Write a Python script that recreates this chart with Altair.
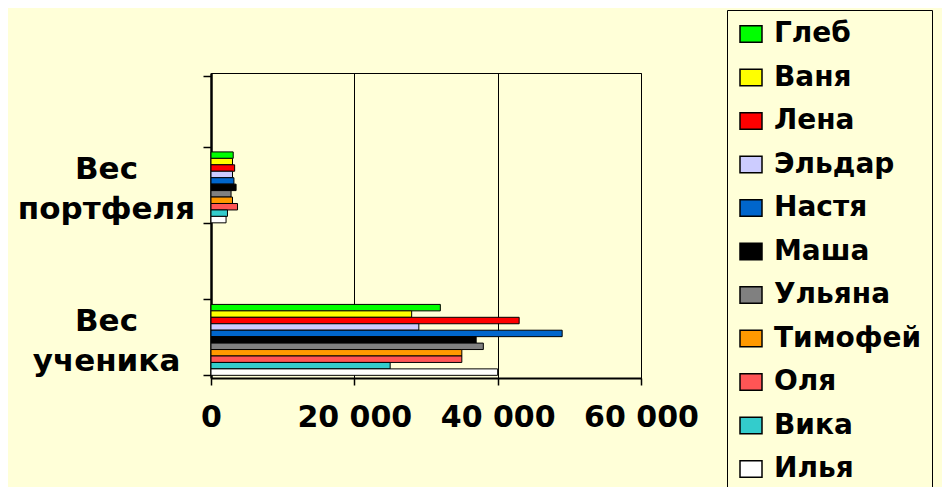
import altair as alt
import pandas as pd

categories = ["Вес портфеля", "Вес ученика"]
axis_slots = [" ", "Вес портфеля", "  ", "Вес ученика"]
names = ["Глеб", "Ваня", "Лена", "Эльдар", "Настя", "Маша", "Ульяна", "Тимофей", "Оля", "Вика", "Илья"]
portfolio = [3100, 3000, 3300, 3000, 3200, 3500, 2800, 3000, 3700, 2300, 2100]
student = [32000, 28000, 43000, 29000, 49000, 37000, 38000, 35000, 35000, 25000, 40000]
colors = ["#00FF00", "#FFFF00", "#FF0000", "#CCCCFF", "#0066CC", "#000000",
          "#808080", "#FF9900", "#FF5555", "#33CCCC", "#FFFFFF"]
x_ticks = [0, 20000, 40000, 60000]

rows = []
for cat, vals in zip(categories, [portfolio, student]):
    for n, v in zip(names, vals):
        rows.append({"cat": cat, "name": n, "value": v})
df = pd.DataFrame(rows)

FONT = "DejaVu Sans"
BG = "#FFFFD8"

bars = alt.Chart(df).mark_bar(stroke="black", strokeWidth=1).encode(
    y=alt.Y("cat:N", scale=alt.Scale(domain=axis_slots, paddingInner=0.07, paddingOuter=0.035),
            axis=alt.Axis(title=None, labelExpr="trim(datum.label) == '' ? '' : split(datum.label, ' ')",
                          labelAlign="center", labelBaseline="middle", labelPadding=97,
                          labelOffset=-18,
                          labelLineHeight=40, labelFont=FONT, labelFontSize=31, labelFontWeight="bold",
                          labelColor="black", tickBand="extent", tickSize=8, tickColor="black",
                          tickWidth=1.5, domainColor="black", domainWidth=2.5, grid=False)),
    yOffset=alt.YOffset("name:N", sort=names, scale=alt.Scale(domain=names, paddingInner=0, paddingOuter=0)),
    x=alt.X("value:Q", scale=alt.Scale(domain=[0, 60000], nice=False),
            axis=alt.Axis(title=None, values=x_ticks,
                          labelExpr="replace(format(datum.value, ',d'), ',', ' ')",
                          labelFont=FONT, labelFontSize=30, labelFontWeight="bold", labelColor="black",
                          labelPadding=17, labelBaseline="top", tickSize=7, tickColor="black", tickWidth=1.5,
                          domainColor="black", domainWidth=2, grid=True, gridColor="black",
                          gridWidth=1, gridOpacity=1, labelFlush=False)),
    color=alt.Color("name:N", sort=names, scale=alt.Scale(domain=names, range=colors),
                    legend=alt.Legend(title=None, orient="none", legendX=516, legendY=-63,
                                      labelFont=FONT, labelFontSize=28, labelFontWeight="bold",
                                      labelColor="black", labelLimit=400,
                                      symbolType="M-1,-0.75L1,-0.75L1,0.75L-1,0.75Z",
                                      symbolSize=484, symbolStrokeColor="black", symbolStrokeWidth=1.5,
                                      symbolOpacity=1, rowPadding=15.5, labelOffset=9,
                                      strokeColor="black", padding=10, fillColor=BG)),
)

chart = bars.properties(
    width=430, height=305,
    background=BG,
    autosize=alt.AutoSizeParams(type="none"),
    padding={"left": 203, "top": 65, "right": 301, "bottom": 109},
).configure_view(stroke="black", strokeWidth=1, fill=BG)

chart.save("out.html", embed_options={"renderer": "svg", "actions": False})
